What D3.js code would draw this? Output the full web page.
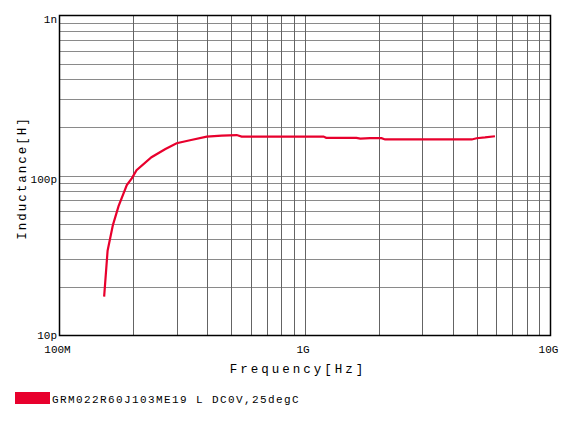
<!DOCTYPE html>
<html><head><meta charset="utf-8">
<script src="https://cdn.jsdelivr.net/npm/d3@7"></script>
<style>body{margin:0;background:#fff}svg{display:block}text{font-family:"Liberation Mono","DejaVu Sans Mono",monospace;fill:#000}</style>
</head><body>
<svg id="c" width="575" height="422"></svg>
<script>
// Frequency in Hz
const freq = [152e6,157e6,165e6,174e6,188e6,197e6,206e6,237e6,269e6,300e6,340e6,398e6,458e6,527e6,552e6,1.19e9,1.22e9,1.62e9,1.68e9,1.84e9,2.05e9,2.12e9,4.78e9,5.0e9,5.41e9,5.94e9];
// Inductance in H
const induct = [17.5e-12,33.9e-12,49e-12,64.4e-12,87.2e-12,96e-12,108e-12,130e-12,146e-12,159e-12,166e-12,175e-12,177.3e-12,179e-12,175e-12,175e-12,172e-12,172e-12,170e-12,171e-12,171e-12,168e-12,168e-12,171e-12,173e-12,176e-12];
const xTickVals = [1e8,1e9,1e10];
const xTickLabels = ["100M","1G","10G"];
const yTickVals = [1e-11,1e-10,1e-9];
const yTickLabels = ["10p","100p","1n"];
const seriesName = "GRM022R60J103ME19 L DC0V,25degC";
const xTitle = "Frequency[Hz]";
const yTitle = "Inductance[H]";

const svg = d3.select("#c");
const L=59.5,R=550.5,T=15.5,B=335.5;
const x = d3.scaleLog().domain([1e8,1e10]).range([L,R]);
const y = d3.scaleLog().domain([1e-11,1e-9]).range([B,T]);

// minor grid
const xg=[],yg=[];
for(let d=1e8; d<1e10; d*=10) for(let k=2;k<=10;k++){ const v=d*k; if(v<1e10) xg.push(v); }
for(let d=1e-11; d<1e-9*0.99; d*=10) for(let k=2;k<=10;k++){ const v=d*k; if(v<1e-9*0.999) yg.push(v); }
svg.append("g").selectAll("line").data(yg).join("line")
  .attr("x1",L).attr("x2",R).attr("y1",d=>Math.round(y(d))+0.5).attr("y2",d=>Math.round(y(d))+0.5)
  .attr("stroke","#8a8a8a").attr("stroke-width",1);
svg.append("g").selectAll("line").data(xg).join("line")
  .attr("y1",T).attr("y2",B).attr("x1",d=>Math.round(x(d))+0.5).attr("x2",d=>Math.round(x(d))+0.5)
  .attr("stroke","#646464").attr("stroke-width",1);
svg.append("rect").attr("x",L).attr("y",T).attr("width",R-L).attr("height",B-T)
  .attr("fill","none").attr("stroke","#000").attr("stroke-width",1.5);

// tick labels
svg.append("g").selectAll("text").data(xTickVals).join("text")
  .attr("x",d=>x(d)-2).attr("y",353).attr("text-anchor","middle")
  .attr("font-size",11).text((d,i)=>xTickLabels[i]);
svg.append("g").selectAll("text").data(yTickVals).join("text")
  .attr("x",57).attr("y",(d,i)=>y(d)+(i===0?3:7)).attr("text-anchor","end")
  .attr("font-size",11).text((d,i)=>yTickLabels[i]);

// titles
svg.append("text").attr("x",298).attr("y",373).attr("text-anchor","middle")
  .attr("font-size",12.5).attr("letter-spacing",3).text(xTitle);
svg.append("text").attr("transform","translate(26,178) rotate(-90)").attr("text-anchor","middle")
  .attr("font-size",12.5).attr("letter-spacing",2).text(yTitle);

// curve
const pts = freq.map((f,i)=>[f,induct[i]]);
svg.append("path").datum(pts)
  .attr("d",d3.line().x(d=>x(d[0])).y(d=>y(d[1])))
  .attr("fill","none").attr("stroke","#e8002d").attr("stroke-width",2.2);

// legend
svg.append("rect").attr("x",15).attr("y",392).attr("width",35).attr("height",12).attr("fill","#e8002d");
svg.append("text").attr("x",52).attr("y",403).attr("font-size",11).attr("letter-spacing",1.4).text(seriesName);
</script>
</body></html>
